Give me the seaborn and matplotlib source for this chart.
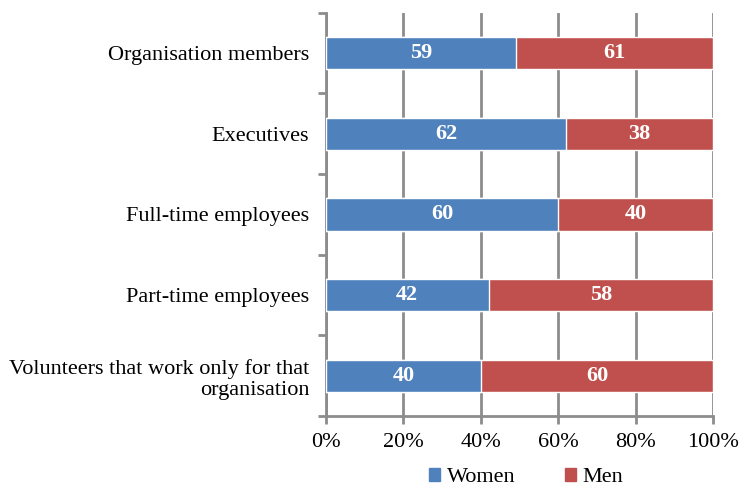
import pandas as pd
import matplotlib.pyplot as plt
import seaborn as sns
import numpy as np
from matplotlib.patches import Patch

# Data (raw values, shown as share of total)
categories = [
    "Organisation members",
    "Executives",
    "Full-time employees",
    "Part-time employees",
    "Volunteers that work only for that\norganisation",
]
women = [59, 62, 60, 42, 40]
men = [61, 38, 40, 58, 60]

BLUE = "#4F81BD"
RED = "#C0504D"
GRID = "#8C8C8C"

sns.set_style("white")
plt.rcParams['font.family'] = ['Liberation Serif', 'DejaVu Serif']
plt.rcParams['text.color'] = 'black'
plt.rcParams['xtick.labelcolor'] = 'black'
plt.rcParams['ytick.labelcolor'] = 'black'

df = pd.DataFrame({"category": categories, "Women": women, "Men": men})
df["total"] = df["Women"] + df["Men"]
df["women_pct"] = df["Women"] / df["total"] * 100
df["full"] = 100.0

fig = plt.figure(figsize=(7.39, 4.90), dpi=100)
ax = fig.add_axes([0.441, 0.151, 0.524, 0.823])

# Men segment = full bar underneath, women drawn on top
sns.barplot(data=df, y="category", x="full", color=RED, orient="h",
            width=0.4, saturation=1, ax=ax, zorder=3)
sns.barplot(data=df, y="category", x="women_pct", color=BLUE, orient="h",
            width=0.4, saturation=1, ax=ax, zorder=3)

# Value labels
for i, row in df.iterrows():
    ax.text(row["women_pct"] / 2, i, str(row["Women"]), ha="center", va="center",
            color="white", fontsize=16, fontweight="bold", zorder=4)
    ax.text(row["women_pct"] + (100 - row["women_pct"]) / 2, i, str(row["Men"]),
            ha="center", va="center", color="white", fontsize=16,
            fontweight="bold", zorder=4)

ax.set_xlim(0, 100)
ax.set_ylim(len(categories) - 0.5, -0.5)
ax.set_xticks(np.arange(0, 101, 20))
ax.set_xticklabels([f"{v}%" for v in range(0, 101, 20)], fontsize=16)
ax.set_xlabel("")
ax.set_ylabel("")
ax.set_yticks(range(len(categories)))
ax.set_yticklabels(categories, fontsize=16, ha="right")
ax.set_yticks(np.arange(-0.5, len(categories), 1), minor=True)
ax.tick_params(axis="y", which="major", left=True, length=0, pad=12)
ax.tick_params(axis="y", which="minor", left=True, length=6, width=2,
               color=GRID, direction="out")
ax.tick_params(axis="x", bottom=True, length=6, width=2, color=GRID,
               direction="out", pad=6)

ax.xaxis.grid(True, color=GRID, linewidth=2, zorder=0)
ax.set_axisbelow(True)
for side in ["top", "right"]:
    ax.spines[side].set_visible(False)
for side in ["left", "bottom"]:
    ax.spines[side].set_color(GRID)
    ax.spines[side].set_linewidth(2)

handles = [Patch(color=BLUE, label="Women"), Patch(color=RED, label="Men")]
fig.legend(handles=handles, loc="lower center", bbox_to_anchor=(0.712, -0.035),
           ncol=2, frameon=False, fontsize=16, handlelength=0.5, handleheight=0.5,
           handletextpad=0.3, columnspacing=2.2)

fig.savefig("out.png", dpi=100)
plt.close(fig)
